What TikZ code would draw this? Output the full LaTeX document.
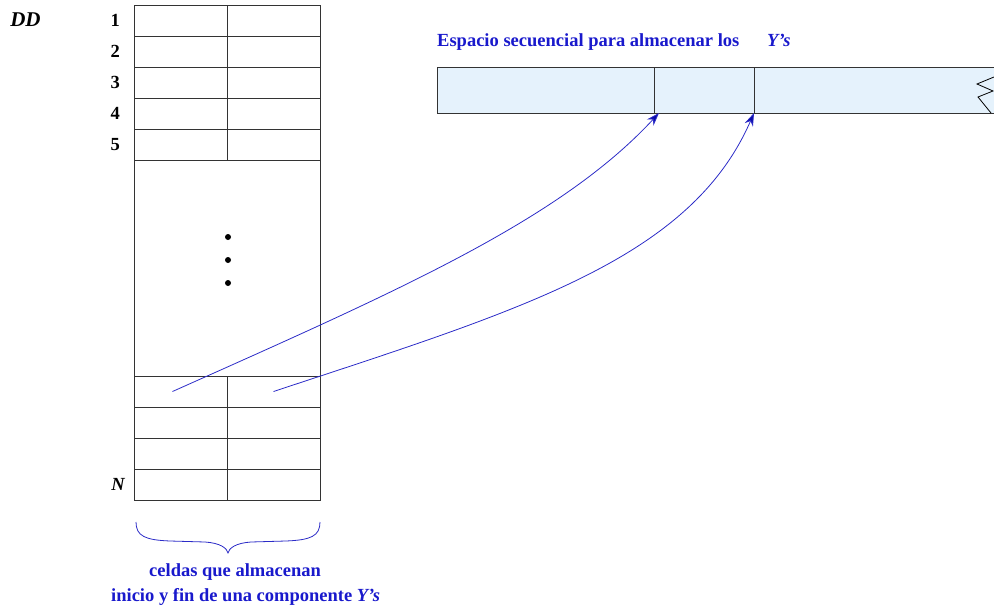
\documentclass[tikz,border=0pt]{standalone}
\usepackage{fontspec}
\setmainfont{Liberation Serif}
\usetikzlibrary{arrows.meta,positioning,calc}
\definecolor{azultexto}{rgb}{0.10,0.10,0.80}
\definecolor{azulcurva}{rgb}{0.17,0.17,0.78}
\definecolor{azulpunta}{rgb}{0.04,0.04,0.66}
\definecolor{celeste}{rgb}{0.90,0.95,0.99}
\definecolor{gristabla}{rgb}{0.2,0.2,0.2}
\tikzset{
  celda/.style={
    draw=gristabla,
    line width=1pt,
    minimum width=93pt,
    minimum height=31pt,
    inner sep=0pt,
    outer sep=0pt,
    anchor=north west
  },
  tira/.style={
    fill=celeste,
    line width=1pt,
    minimum height=46pt,
    inner sep=0pt,
    outer sep=0pt,
    anchor=north west
  },
  etiq/.style={
    inner sep=0pt,
    font=\fontsize{18.5}{22}\selectfont\bfseries
  },
  azul/.style={
    inner sep=0pt,
    text=azultexto,
    font=\fontsize{18.5}{23}\selectfont\bfseries
  },
  flecha/.style={
    -{Stealth[length=13pt,width=9pt,fill=azulpunta]},
    line width=0.8pt,
    draw=azulcurva
  }
}
\begin{document}
\begin{tikzpicture}[x=1pt,y=-1pt]
\useasboundingbox (0,0) rectangle (994,608);
% tabla DD
\node[etiq,font=\fontsize{21}{24}\selectfont\bfseries\itshape] (dd) at (25.5,20) {DD};
\foreach \i in {1,...,5} {
  \pgfmathsetmacro\yy{5+31*(\i-1)}
  \node[celda] (izq\i) at (134,\yy) {};
  \node[celda] (der\i) at (227,\yy) {};
  \node[etiq,left=14pt of izq\i] (n\i) {\i};
}
\node[celda,minimum width=186pt,minimum height=216pt] (bloque) at (134,160) {};
\foreach \i in {6,...,9} {
  \pgfmathsetmacro\yy{376+31*(\i-6)}
  \node[celda] (izq\i) at (134,\yy) {};
  \node[celda] (der\i) at (227,\yy) {};
}
\node[etiq,font=\fontsize{18.5}{22}\selectfont\bfseries\itshape,left=9pt of izq9] (nn) {N};
\foreach \yy in {237,260,283}
  \fill (228,\yy) circle (3pt);
% espacio secuencial
\node[azul,anchor=base west] (titulo) at (437,46) {Espacio secuencial para almacenar los};
\node[azul,anchor=base west,font=\fontsize{18.5}{23}\selectfont\bfseries\itshape] (ys) at (767,46) {Y’s};
\node[tira,minimum width=240pt] (yc) at (754,67) {};
\node[tira,draw=gristabla,minimum width=217pt] (ya) at (437,67) {};
\node[tira,draw=gristabla,minimum width=100pt] (yb) at (654,67) {};
\draw[gristabla,line width=1pt] (yc.north west) -- (yc.north east);
\draw[gristabla,line width=1pt] (yc.south west) -- (yc.south east);
\draw[black,line width=0.8pt] (994,77) -- (977,84) -- (993,91) -- (978,97) -- (991,113);
% punteros
\draw[flecha] ([xshift=-8pt]izq6.center) .. controls (400,290) and (560,220) .. ([xshift=5pt]yb.south west);
\draw[flecha] (der6.center) .. controls (520,310) and (690,260) .. (yc.south west);
% llave
\draw[azulcurva,line width=0.8pt] (136,522) .. controls (136,536) and (145,540) .. (170,541) -- (205,542)
  .. controls (220,543) and (227,548) .. (228,553)
  .. controls (229,548) and (236,543) .. (251,542) -- (286,541)
  .. controls (311,540) and (320,536) .. (320,522);
\node[azul] (nota1) at (235,572) {celdas que almacenan};
\node[azul,anchor=base west] (nota2) at (111,601) {inicio y fin de una componente \textit{Y’s}};
\end{tikzpicture}
\end{document}
